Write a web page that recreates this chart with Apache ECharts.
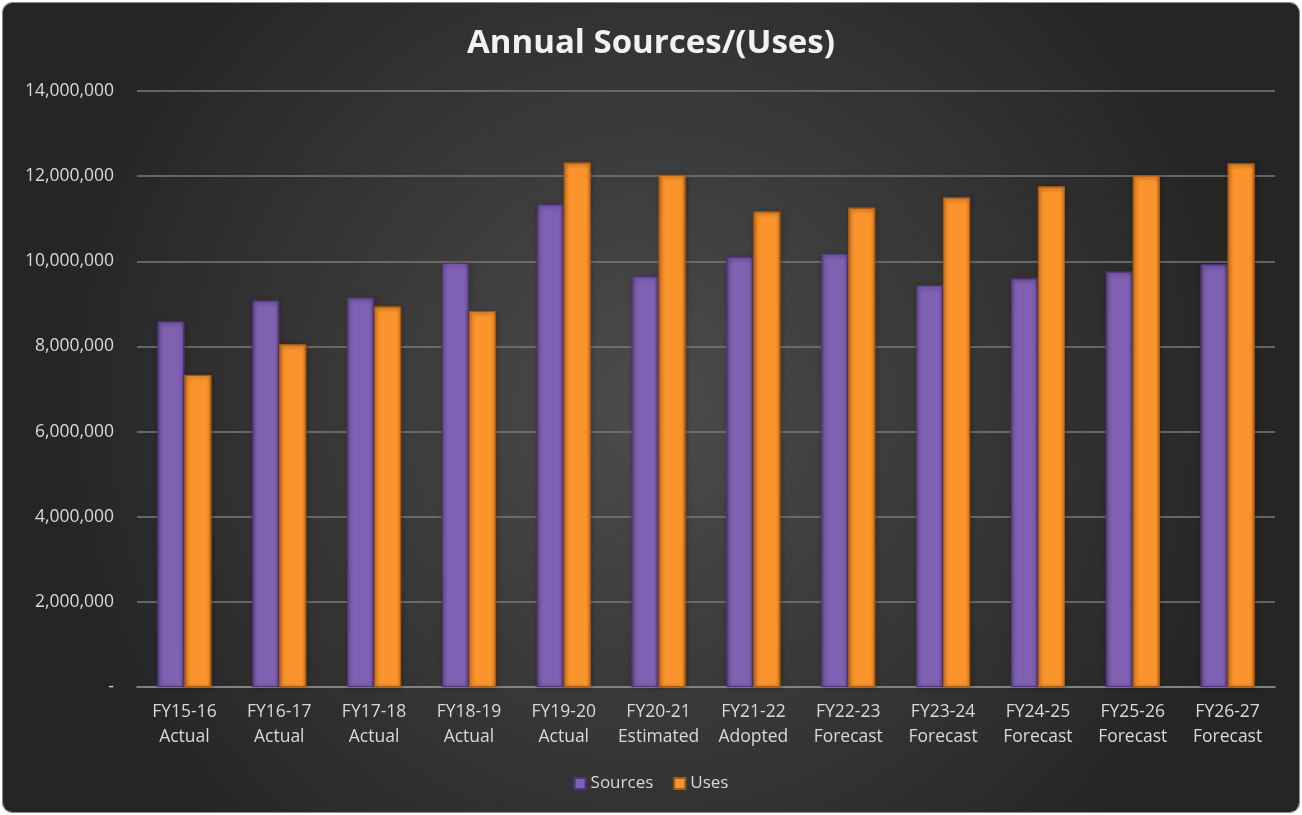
<!DOCTYPE html>
<html>
<head>
<meta charset="utf-8">
<script src="https://cdn.jsdelivr.net/npm/echarts@6/dist/echarts.min.js"></script>
<style>
html,body{margin:0;padding:0;background:#fff;}
#chart{position:absolute;left:2px;top:2px;width:1298px;height:811px;border-radius:10px;overflow:hidden;box-sizing:border-box;border:1px solid #8a8a8a;}
</style>
</head>
<body>
<div id="chart"></div>
<script>
const categories = ["FY15-16\nActual","FY16-17\nActual","FY17-18\nActual","FY18-19\nActual","FY19-20\nActual","FY20-21\nEstimated","FY21-22\nAdopted","FY22-23\nForecast","FY23-24\nForecast","FY24-25\nForecast","FY25-26\nForecast","FY26-27\nForecast"];
const sources = [8590000, 9080000, 9150000, 9960000, 11340000, 9650000, 10110000, 10180000, 9440000, 9600000, 9760000, 9930000];
const uses = [7330000, 8050000, 8940000, 8830000, 12320000, 12030000, 11170000, 11260000, 11500000, 11760000, 12020000, 12300000];
const yTicks = {min: 0, max: 14000000, interval: 2000000};

const chart = echarts.init(document.getElementById('chart'));
function hgrad(edge, mid){
  return new echarts.graphic.LinearGradient(0,0,1,0,[{offset:0,color:edge},{offset:0.15,color:mid},{offset:0.85,color:mid},{offset:1,color:edge}]);
}
const font = '"Open Sans", sans-serif';
chart.setOption({
  backgroundColor: {type:'radial', x:0.5, y:0.5, r:0.75, colorStops:[{offset:0,color:'#4c4c4c'},{offset:1,color:'#252525'}]},
  title: {text:'Annual Sources/(Uses)', left:'center', top:19, textStyle:{color:'#f2f2f2', fontSize:33, fontWeight:'bold', fontFamily:font}},
  grid: {left:134, right:24, top:88, bottom:125, containLabel:false},
  legend: {bottom:15, icon:'rect', itemWidth:11, itemHeight:11, itemGap:20, textStyle:{color:'#d9d9d9', fontSize:17, fontFamily:font}, data:['Sources','Uses']},
  xAxis: {type:'category', data:categories, axisTick:{show:false},
    axisLine:{lineStyle:{color:'#8c8c8c', width:1.5}},
    axisLabel:{color:'#d9d9d9', fontSize:17.5, lineHeight:25, margin:13, fontFamily:font, interval:0}},
  yAxis: {type:'value', min:yTicks.min, max:yTicks.max, interval:yTicks.interval,
    axisLine:{show:false}, axisTick:{show:false},
    splitLine:{lineStyle:{color:'#7a7a7a', width:1.5}},
    axisLabel:{color:'#d9d9d9', fontSize:17.5, margin:23, fontFamily:font,
      formatter: v => v === 0 ? '-' : v.toLocaleString('en-US')}},
  series: [
    {name:'Sources', type:'bar', data:sources, barGap:'0%', barCategoryGap:'43%',
     itemStyle:{color:hgrad('#6a4c98','#8060b2'), borderColor:'#4e3577', borderWidth:1, shadowColor:'rgba(0,0,0,0.5)', shadowBlur:4, shadowOffsetX:1, shadowOffsetY:1}},
    {name:'Uses', type:'bar', data:uses,
     itemStyle:{color:hgrad('#de7a1c','#fb942c'), borderColor:'#a85a12', borderWidth:1, shadowColor:'rgba(0,0,0,0.5)', shadowBlur:4, shadowOffsetX:1, shadowOffsetY:1}}
  ]
});
</script>
</body>
</html>
